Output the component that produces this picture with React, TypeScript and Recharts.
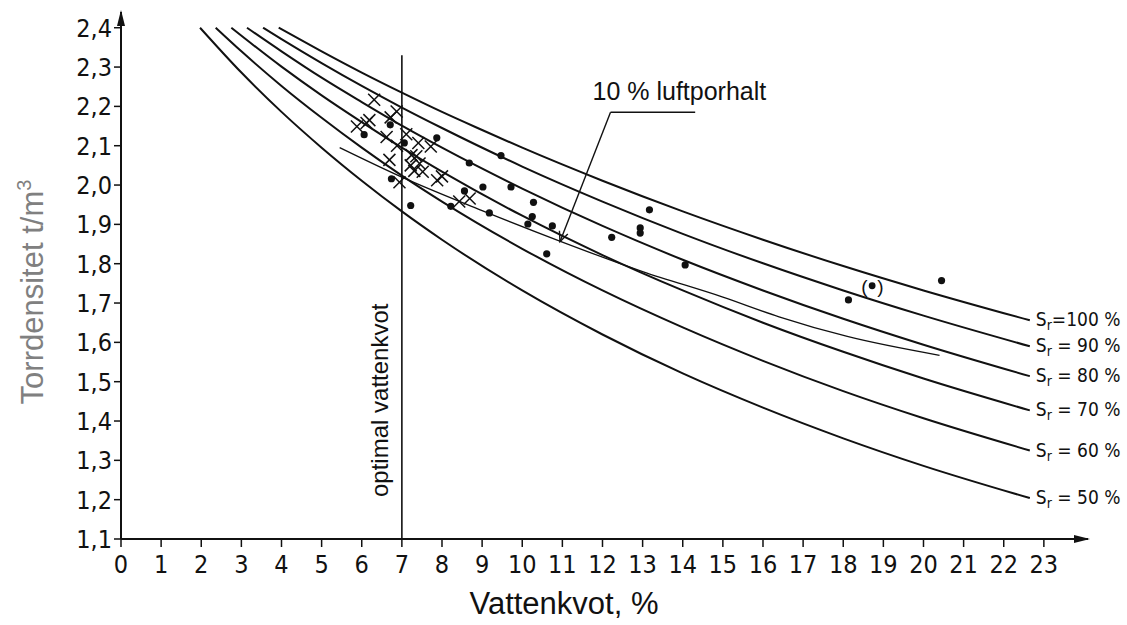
import React from "react"
import {
  ComposedChart,
  Line,
  Scatter,
  XAxis,
  YAxis,
  ReferenceLine,
  ReferenceDot,
} from "recharts"

// Saturation curves: vattenkvot (%) vs torrdensitet (t/m3)
const sr100W = [3.93, 5, 6, 7, 8, 9, 10, 12, 14, 16, 18, 20, 22.65]
const sr100D = [2.4, 2.34, 2.286, 2.235, 2.186, 2.14, 2.095, 2.011, 1.933, 1.861, 1.794, 1.732, 1.656]
const sr90W = [3.54, 4, 5, 6, 7, 8, 10, 12, 14, 16, 18, 20, 22.65]
const sr90D = [2.4, 2.371, 2.31, 2.252, 2.197, 2.145, 2.047, 1.958, 1.876, 1.801, 1.732, 1.668, 1.59]
const sr80W = [3.14, 4, 5, 6, 7, 8, 10, 12, 14, 16, 18, 20, 22.65]
const sr80D = [2.4, 2.34, 2.273, 2.211, 2.151, 2.095, 1.991, 1.896, 1.81, 1.732, 1.66, 1.594, 1.514]
const sr70W = [2.75, 4, 5, 6, 7, 8, 10, 12, 14, 16, 18, 20, 22.65]
const sr70D = [2.4, 2.301, 2.228, 2.16, 2.095, 2.034, 1.922, 1.822, 1.732, 1.65, 1.576, 1.508, 1.427]
const sr60W = [2.36, 3, 4, 5, 6, 7, 8, 10, 12, 14, 16, 18, 20, 22.65]
const sr60D = [2.4, 2.34, 2.252, 2.171, 2.095, 2.024, 1.958, 1.838, 1.732, 1.638, 1.553, 1.476, 1.407, 1.325]
const sr50W = [1.97, 3, 4, 5, 6, 7, 8, 10, 12, 14, 16, 18, 20, 22.65]
const sr50D = [2.4, 2.286, 2.186, 2.095, 2.011, 1.933, 1.861, 1.732, 1.62, 1.521, 1.434, 1.356, 1.286, 1.204]

// 10 % luftporhalt
const airW = [5.45, 7, 9, 11, 13, 15, 16.4, 18.1, 20.4]
const airD = [2.095, 2.02, 1.935, 1.855, 1.78, 1.715, 1.665, 1.615, 1.567]

// Measured points (dots)
const dotW = [6.06, 6.71, 7.06, 7.87, 6.74, 7.22, 8.68, 9.47, 9.02, 9.72, 8.56, 8.22, 9.18, 10.28, 10.25, 10.14, 10.75, 10.61, 12.23, 13.17, 12.94, 12.94, 14.06, 18.13, 20.45]
const dotD = [2.128, 2.153, 2.107, 2.12, 2.016, 1.948, 2.056, 2.075, 1.995, 1.995, 1.985, 1.946, 1.929, 1.956, 1.92, 1.901, 1.896, 1.825, 1.867, 1.937, 1.891, 1.878, 1.797, 1.708, 1.757]

// Measured points (crosses)
const crossW = [5.88, 6.12, 6.19, 6.31, 6.87, 6.72, 6.62, 6.88, 7.11, 7.41, 7.72, 6.69, 7.24, 7.36, 7.22, 7.44, 7.31, 7.52, 7.88, 8.0, 6.94, 8.43, 8.69]
const crossD = [2.149, 2.158, 2.165, 2.217, 2.187, 2.172, 2.122, 2.1, 2.129, 2.107, 2.098, 2.064, 2.076, 2.073, 2.05, 2.055, 2.036, 2.034, 2.012, 2.022, 2.007, 1.958, 1.966]

// Uncertain point, drawn in brackets
const bracketW = [18.72]
const bracketD = [1.744]

const xTicks = [0, 1, 2, 3, 4, 5, 6, 7, 8, 9, 10, 11, 12, 13, 14, 15, 16, 17, 18, 19, 20, 21, 22, 23]
const yTicks = [1.1, 1.2, 1.3, 1.4, 1.5, 1.6, 1.7, 1.8, 1.9, 2.0, 2.1, 2.2, 2.3, 2.4]

const optimalW = 7

const toPts = (w: number[], d: number[]) => w.map((x, i) => ({ w: x, d: d[i] }))

const curves = [
  { key: "sr100", text: "=100 %", pts: toPts(sr100W, sr100D) },
  { key: "sr90", text: " = 90 %", pts: toPts(sr90W, sr90D) },
  { key: "sr80", text: " = 80 %", pts: toPts(sr80W, sr80D) },
  { key: "sr70", text: " = 70 %", pts: toPts(sr70W, sr70D) },
  { key: "sr60", text: " = 60 %", pts: toPts(sr60W, sr60D) },
  { key: "sr50", text: " = 50 %", pts: toPts(sr50W, sr50D) },
]

const INK = "#111"
const TICK_FONT = "'Liberation Sans Narrow', 'DejaVu Sans Condensed', 'Liberation Sans', sans-serif"
const TEXT_FONT = "'Liberation Sans', Arial, sans-serif"

const fmt = (v: number) => v.toFixed(1).replace(".", ",")

const XTick = (p: any) => (
  <text x={p.x} y={p.y + 24} textAnchor="middle" fontSize={25} fontFamily={TICK_FONT} fill={INK}>
    {p.payload.value}
  </text>
)

const YTick = (p: any) => (
  <text x={p.x} y={p.y + 9} textAnchor="end" fontSize={25} fontFamily={TICK_FONT} fill={INK}>
    {fmt(p.payload.value)}
  </text>
)

const Cross = (p: any) => (
  <g stroke={INK} strokeWidth={1.5}>
    <line x1={p.cx - 6} y1={p.cy - 6} x2={p.cx + 6} y2={p.cy + 6} />
    <line x1={p.cx - 6} y1={p.cy + 6} x2={p.cx + 6} y2={p.cy - 6} />
  </g>
)

const Dot = (p: any) => <circle cx={p.cx} cy={p.cy} r={3.6} fill={INK} />

const BracketDot = (p: any) => (
  <g>
    <circle cx={p.cx} cy={p.cy} r={3.4} fill={INK} />
    <text x={p.cx - 11} y={p.cy + 7} fontSize={19} fontFamily={TEXT_FONT} fill={INK}>(</text>
    <text x={p.cx + 5} y={p.cy + 7} fontSize={19} fontFamily={TEXT_FONT} fill={INK}>)</text>
  </g>
)

// label "Sr = .. %" at the end of each curve
const endLabel = (text: string, last: number) => (p: any) => {
  if (p.index !== last) return <g key={`e-${p.index}`} />
  return (
    <text key={`e-${p.index}`} x={p.cx + 6} y={p.cy + 6} fontSize={19} fontFamily={TICK_FONT} fill={INK}>
      S
      <tspan dy={4} fontSize={14}>r</tspan>
      <tspan dy={-4}>{text}</tspan>
    </text>
  )
}

const ArrowLeader = (p: any) => {
  const a = Math.atan2(p.y2 - p.y1, p.x2 - p.x1)
  const len = 11
  const spread = 0.42
  const h1x = p.x2 - len * Math.cos(a - spread)
  const h1y = p.y2 - len * Math.sin(a - spread)
  const h2x = p.x2 - len * Math.cos(a + spread)
  const h2y = p.y2 - len * Math.sin(a + spread)
  return (
    <g stroke={INK} strokeWidth={1.4} fill="none">
      <line x1={p.x1} y1={p.y1} x2={p.x2} y2={p.y2} />
      <polyline points={`${h1x},${h1y} ${p.x2},${p.y2} ${h2x},${h2y}`} />
    </g>
  )
}

const LeaderTop = (p: any) => (
  <g>
    <line x1={p.x1} y1={p.y1} x2={p.x2} y2={p.y2} stroke={INK} strokeWidth={1.4} />
    <text x={p.x1 - 18} y={p.y1 - 12} fontSize={25} fontFamily={TEXT_FONT} fill={INK}>
      10 % luftporhalt
    </text>
  </g>
)

const OptimalLine = (p: any) => {
  const bottom = Math.max(p.y1, p.y2)
  return (
    <g>
      <line x1={p.x1} y1={p.y1} x2={p.x2} y2={p.y2} stroke={INK} strokeWidth={1.6} />
      <text
        transform={`translate(${p.x1 - 14}, ${bottom - 42}) rotate(-90)`}
        fontSize={24}
        fontFamily={TEXT_FONT}
        fill={INK}
      >
        optimal vattenkvot
      </text>
    </g>
  )
}

export default function App() {
  return (
    <div style={{ position: "absolute", left: 0, top: 0, width: 1127, height: 625, background: "#fff" }}>
      <ComposedChart width={1127} height={625} margin={{ top: 12, right: 39, bottom: 0, left: 0 }}>
        <XAxis
          type="number"
          dataKey="w"
          domain={[0, 24.1]}
          ticks={xTicks}
          height={86}
          tickSize={8}
          tick={XTick}
          axisLine={{ stroke: INK, strokeWidth: 2 }}
          tickLine={{ stroke: INK, strokeWidth: 1.5 }}
          label={() => (
            <text x={564} y={614} textAnchor="middle" fontSize={31} fontFamily={TEXT_FONT} fill={INK}>
              Vattenkvot, %
            </text>
          )}
        />
        <YAxis
          type="number"
          dataKey="d"
          domain={[1.1, 2.44]}
          ticks={yTicks}
          width={121}
          tickSize={7}
          tick={YTick}
          axisLine={{ stroke: INK, strokeWidth: 2 }}
          tickLine={{ stroke: INK, strokeWidth: 1.5 }}
          label={() => (
            <text
              transform="translate(43, 292) rotate(-90)"
              textAnchor="middle"
              fontSize={31}
              fontFamily={TEXT_FONT}
              fill="#808080"
            >
              Torrdensitet t/m
              <tspan dy={-12} fontSize={20}>3</tspan>
            </text>
          )}
        />

        <ReferenceLine
          segment={[{ x: optimalW, y: 1.1 }, { x: optimalW, y: 2.33 }]}
          ifOverflow="visible"
          shape={OptimalLine}
        />

        {curves.map((c) => (
          <Line
            key={c.key}
            data={c.pts}
            dataKey="d"
            type="monotone"
            stroke={INK}
            strokeWidth={2}
            dot={endLabel(c.text, c.pts.length - 1)}
            activeDot={false}
            isAnimationActive={false}
          />
        ))}

        <Line
          data={toPts(airW, airD)}
          dataKey="d"
          type="monotone"
          stroke={INK}
          strokeWidth={1.3}
          dot={false}
          activeDot={false}
          isAnimationActive={false}
        />

        <ReferenceLine
          segment={[{ x: 12.2, y: 2.185 }, { x: 14.31, y: 2.185 }]}
          ifOverflow="visible"
          shape={LeaderTop}
        />
        <ReferenceLine
          segment={[{ x: 12.2, y: 2.185 }, { x: 10.94, y: 1.856 }]}
          ifOverflow="visible"
          shape={ArrowLeader}
        />

        <Scatter data={toPts(dotW, dotD)} shape={Dot} isAnimationActive={false} />
        <Scatter data={toPts(crossW, crossD)} shape={Cross} isAnimationActive={false} />
        <Scatter data={toPts(bracketW, bracketD)} shape={BracketDot} isAnimationActive={false} />

        <ReferenceDot
          x={24.1}
          y={1.1}
          r={0}
          ifOverflow="visible"
          shape={(p: any) => (
            <path d={`M${p.cx + 2},${p.cy} L${p.cx - 14},${p.cy - 4} L${p.cx - 14},${p.cy + 4} Z`} fill={INK} />
          )}
        />
        <ReferenceDot
          x={0}
          y={2.44}
          r={0}
          ifOverflow="visible"
          shape={(p: any) => (
            <path d={`M${p.cx},${p.cy - 2} L${p.cx - 4},${p.cy + 14} L${p.cx + 4},${p.cy + 14} Z`} fill={INK} />
          )}
        />
      </ComposedChart>
    </div>
  )
}
